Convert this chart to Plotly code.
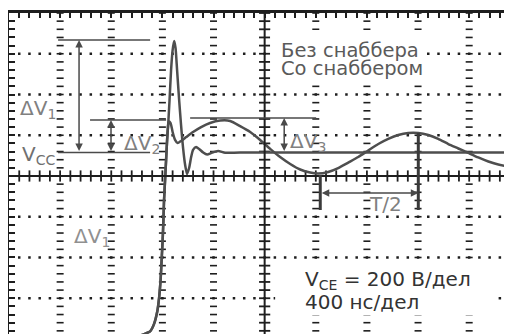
import numpy as np
import plotly.graph_objects as go

# ---- data (time in ns, 400 ns/div; voltage in V, 200 V/div; 0 V = screen centre) ----
edge_t = [0, 869, 1025, 1072, 1104, 1135, 1159, 1174, 1186, 1194, 1202, 1208, 1213, 1221, 1229, 1237, 1245]
edge_v = [-790, -788, -783, -772, -763, -726, -668, -599, -510, -412, -314, -216, -118, -20, 79, 177, 250]

nosnub_t = [1256, 1268, 1280, 1292, 1303, 1315, 1331, 1346, 1362, 1378, 1393, 1409, 1425, 1440, 1464,
            1487, 1519, 1550, 1589, 1636, 1691, 1808, 3937]
nosnub_v = [373, 520, 618, 663, 628, 520, 373, 250, 137, 54, 10, 39, 93, 128, 142,
            133, 115, 105, 115, 123, 114, 115, 115]

snub_t = [1252, 1264, 1280, 1299, 1319, 1346, 1386, 1440, 1503, 1573, 1652, 1730, 1808, 1887, 1965,
          2043, 2121, 2200, 2278, 2356, 2419, 2497, 2575, 2654, 2732, 2810, 2889, 2967, 3045, 3123,
          3202, 3280, 3358, 3437, 3515, 3593, 3671, 3750, 3828, 3937]
snub_v = [267, 260, 216, 177, 162, 172, 191, 216, 240, 260, 272, 270, 245, 216, 177,
          133, 93, 59, 32, 17, 12, 20, 39, 66, 93, 125, 157, 182, 201, 211,
          211, 201, 182, 157, 135, 113, 91, 71, 56, 44]

VCC = 115
DV1_TOP = 667
DV2_TOP = 275
DV3_TOP = 285
T_TROUGH = 2435
T_PEAK = 3202

X_RANGE = [0, 3935]
Y_RANGE = [-775.5, 800]

curveA_t = edge_t + nosnub_t
curveA_v = edge_v + nosnub_v
curveB_t = edge_t + snub_t
curveB_v = edge_v + snub_v

GRID = "#1e1e1e"
CURVE = "#4e4e4e"
ANN = "#4a4a4a"

fig = go.Figure()

# graticule dots on horizontal division lines
hx, hy = [], []
for lv in [-600, -400, -200, 200, 400, 600]:
    for t in np.arange(80, 3936, 80):
        hx.append(t); hy.append(lv)
fig.add_trace(go.Scatter(x=hx, y=hy, mode="markers", hoverinfo="skip", showlegend=False,
                         marker=dict(symbol="square", size=2.5, color=GRID, line=dict(width=0))))
# graticule dashes on vertical division lines
vx, vy = [], []
for tv in [400, 800, 1200, 1600, 2400, 2800, 3200, 3600]:
    for v in np.arange(-800, 801, 40):
        vx.append(tv); vy.append(v)
fig.add_trace(go.Scatter(x=vx, y=vy, mode="markers", hoverinfo="skip", showlegend=False,
                         marker=dict(symbol="line-ew", size=5, color=GRID, line=dict(width=1.6, color=GRID))))
# centre axes ticks
ct = np.arange(80, 3936, 80)
fig.add_trace(go.Scatter(x=ct, y=[0] * len(ct), mode="markers", hoverinfo="skip", showlegend=False,
                         marker=dict(symbol="line-ns", size=8, line=dict(width=1.8, color=GRID))))
cv = np.arange(-760, 801, 40)
fig.add_trace(go.Scatter(x=[2000] * len(cv), y=cv, mode="markers", hoverinfo="skip", showlegend=False,
                         marker=dict(symbol="line-ew", size=8, line=dict(width=1.8, color=GRID))))

# waveforms
fig.add_trace(go.Scatter(x=curveA_t, y=curveA_v, mode="lines", name="Без снаббера",
                         line=dict(color=CURVE, width=2.5, shape="spline", smoothing=0.6), showlegend=False))
fig.add_trace(go.Scatter(x=curveB_t, y=curveB_v, mode="lines", name="Со снаббером",
                         line=dict(color=CURVE, width=2.5, shape="spline", smoothing=0.6), showlegend=False))

shapes = [
    dict(type="line", x0=0, x1=X_RANGE[1], y0=0, y1=0, line=dict(color=GRID, width=2)),
    dict(type="line", x0=2000, x1=2000, y0=Y_RANGE[0], y1=800, line=dict(color=GRID, width=2)),
    # measurement lines
    dict(type="line", x0=384, x1=1104, y0=DV1_TOP, y1=DV1_TOP, line=dict(color=ANN, width=1.5)),
    dict(type="line", x0=384, x1=1104, y0=VCC, y1=VCC, line=dict(color=ANN, width=1.5)),
    dict(type="line", x0=634, x1=1229, y0=DV2_TOP, y1=DV2_TOP, line=dict(color=ANN, width=1.5)),
    dict(type="line", x0=1417, x1=2403, y0=DV3_TOP, y1=DV3_TOP, line=dict(color=ANN, width=1.5)),
    dict(type="line", x0=T_TROUGH, x1=T_TROUGH, y0=5, y1=-167, line=dict(color="#3a3a3a", width=3)),
    dict(type="line", x0=T_PEAK, x1=T_PEAK, y0=211, y1=-167, line=dict(color="#3a3a3a", width=3)),
    # white boxes behind texts
    dict(type="rect", x0=2043, x1=3241, y0=447, y1=717, fillcolor="white", line=dict(width=0), layer="above"),
    dict(type="rect", x0=2082, x1=3804, y0=-682, y1=-427, fillcolor="white", line=dict(width=0), layer="above"),
]

def arrow(x0, y0, x1, y1):
    return dict(x=x1, y=y1, ax=x0, ay=y0, xref="x", yref="y", axref="x", ayref="y", text="",
                showarrow=True, arrowhead=2, arrowsize=1, arrowwidth=1.5, arrowcolor=ANN,
                arrowside="end+start")

FONT = "DejaVu Sans"
def label(x, y, text, size=20, color="#808080"):
    return dict(x=x, y=y, xref="x", yref="y", text=text, showarrow=False, xanchor="left",
                yanchor="middle", font=dict(family=FONT, size=size, color=color))

annotations = [
    arrow(548, VCC, 548, DV1_TOP),
    arrow(798, VCC, 798, DV2_TOP),
    arrow(2153, VCC, 2153, DV3_TOP),
    arrow(T_TROUGH, -83, T_PEAK, -83),
    label(70, 329, "ΔV<sub>1</sub>"),
    label(86, 103, "V<sub>CC</sub>", color="#707070"),
    label(885, 157, "ΔV<sub>2</sub>"),
    label(2184, 167, "ΔV<sub>3</sub>"),
    label(493, -299, "ΔV<sub>1</sub>", color="#909090"),
    label(2802, -137, "T/2", color="#808080"),
    label(2114, 618, "Без снаббера", size=19.5, color="#5a5a5a"),
    label(2114, 530, "Со снаббером", size=19.5, color="#5a5a5a"),
    label(2301, -510, "V<sub>CE</sub> = 200 В/дел", color="#333333"),
    label(2301, -618, "400 нс/дел", color="#333333"),
]

# the page body has an 8 px default margin, so the figure is 8 px smaller
fig.update_layout(
    width=504, height=326,
    margin=dict(l=1, r=0, t=5, b=0),
    paper_bgcolor="white", plot_bgcolor="white",
    shapes=shapes, annotations=annotations,
    xaxis=dict(range=X_RANGE, side="top", showgrid=False, zeroline=False, showticklabels=False,
               automargin=False,
               showline=True, linewidth=3, linecolor=GRID, ticks="inside", ticklen=5, tickwidth=2,
               tickcolor=GRID, tick0=0, dtick=80),
    yaxis=dict(range=Y_RANGE, showgrid=False, zeroline=False, showticklabels=False,
               automargin=False,
               showline=True, linewidth=3, linecolor=GRID, ticks="inside", ticklen=6, tickwidth=2,
               tickcolor=GRID, tick0=0, dtick=40),
)

fig.write_html("out.html")
